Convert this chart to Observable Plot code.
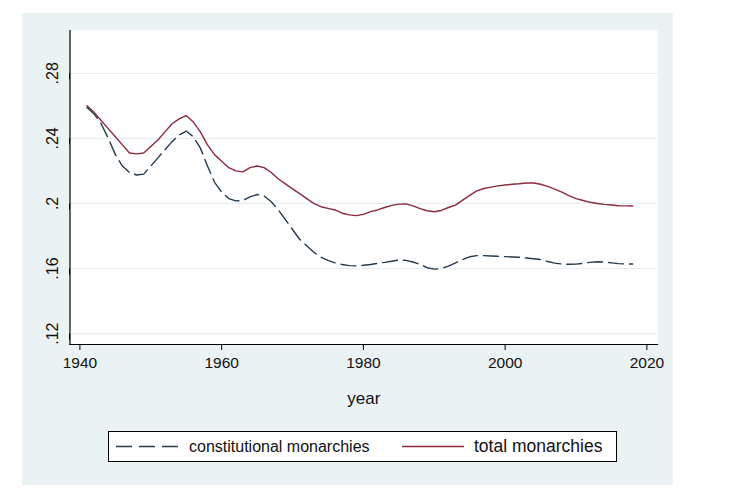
<!DOCTYPE html>
<html>
<head>
<meta charset="utf-8">
<script src="https://cdn.jsdelivr.net/npm/d3@7"></script>
<script src="https://cdn.jsdelivr.net/npm/@observablehq/plot@0.6"></script>
<style>
  html, body { margin: 0; padding: 0; background: #ffffff; }
  body { width: 738px; height: 494px; position: relative; overflow: hidden; font-family: "Liberation Sans", Arial, sans-serif; }
  #outer { position: absolute; left: 22px; top: 13px; width: 651px; height: 472px; background: rgb(234,242,243); }
  #chart { position: absolute; left: 0; top: 0; }
  #legend { position: absolute; left: 86px; top: 418px; width: 507px; height: 29px; border: 1px solid #000; background: #fff; }
  #legend .t { position: absolute; top: 0; line-height: 29px; color: #111; white-space: nowrap; }
  #legend svg { position: absolute; top: 0; }
</style>
</head>
<body>
<div id="outer">
  <div id="chart"></div>
  <div id="legend"></div>
</div>
<script>
const years = [1941,1942,1943,1944,1945,1946,1947,1948,1949,1950,1951,1952,1953,1954,1955,1956,1957,1958,1959,1960,
  1961,1962,1963,1964,1965,1966,1967,1968,1969,1970,1971,1972,1973,1974,1975,1976,1977,1978,1979,1980,
  1981,1982,1983,1984,1985,1986,1987,1988,1989,1990,1991,1992,1993,1994,1995,1996,1997,1998,1999,2000,
  2001,2002,2003,2004,2005,2006,2007,2008,2009,2010,2011,2012,2013,2014,2015,2016,2017,2018];

const constitutional = [0.259,0.255,0.249,0.240,0.230,0.223,0.219,0.2175,0.218,0.223,0.228,0.233,0.238,0.242,0.2445,0.241,0.234,0.223,0.213,0.207,
  0.203,0.2016,0.2018,0.204,0.2055,0.2045,0.201,0.196,0.190,0.184,0.178,0.174,0.170,0.167,0.165,0.1635,0.1625,0.1618,0.1616,0.162,
  0.1625,0.1632,0.1638,0.1645,0.1652,0.165,0.164,0.1625,0.1605,0.1596,0.160,0.1615,0.1635,0.1655,0.1672,0.1679,0.1679,0.1677,0.1675,0.1673,
  0.1671,0.1669,0.1665,0.166,0.1655,0.1643,0.1633,0.1628,0.1626,0.1627,0.1632,0.1638,0.1642,0.164,0.1635,0.163,0.1628,0.1628];

const total = [0.260,0.256,0.251,0.246,0.241,0.236,0.231,0.2305,0.231,0.235,0.239,0.244,0.249,0.252,0.254,0.250,0.244,0.236,0.230,0.226,
  0.222,0.220,0.2194,0.222,0.223,0.222,0.219,0.215,0.212,0.209,0.206,0.203,0.200,0.198,0.197,0.196,0.194,0.193,0.1925,0.1933,
  0.195,0.196,0.1975,0.1988,0.1996,0.1997,0.1985,0.1968,0.1955,0.1949,0.1957,0.1975,0.199,0.202,0.205,0.2077,0.2092,0.210,0.2108,0.2113,
  0.2118,0.2121,0.2126,0.2126,0.2118,0.2105,0.2088,0.207,0.2048,0.203,0.2018,0.2007,0.200,0.1994,0.199,0.1986,0.1985,0.1984];

const xTicks = [1940, 1960, 1980, 2000, 2020];
const yTicks = [0.12, 0.16, 0.2, 0.24, 0.28];
const yTickLabels = [".12", ".16", ".2", ".24", ".28"];
const seriesNames = ["constitutional monarchies", "total monarchies"];
const seriesColors = ["#243a4e", "#8c2a3b"];

const rowsC = years.map((y, i) => ({year: y, value: constitutional[i]}));
const rowsT = years.map((y, i) => ({year: y, value: total[i]}));

const chart = Plot.plot({
  width: 651,
  height: 400,
  marginLeft: 47.5,
  marginRight: 16,
  marginTop: 17,
  marginBottom: 69,
  style: {background: "transparent", fontFamily: "'Liberation Sans', Arial, sans-serif", fontSize: "15.5px", color: "#111", overflow: "visible"},
  x: {domain: [1938.6, 2021.5], axis: null},
  y: {domain: [0.1133, 0.3063], axis: null},
  marks: [
    Plot.frame({fill: "white", stroke: null}),
    Plot.gridY(yTicks, {stroke: "#e6eef0", strokeOpacity: 1, strokeWidth: 1.2}),
    Plot.lineY(rowsT, {x: "year", y: "value", stroke: seriesColors[1], strokeWidth: 1.4}),
    Plot.lineY(rowsC, {x: "year", y: "value", stroke: seriesColors[0], strokeWidth: 1.4, strokeDasharray: "15,6"}),
    Plot.frame({anchor: "left", stroke: "#000", strokeWidth: 1.2}),
    Plot.frame({anchor: "bottom", stroke: "#000", strokeWidth: 1.2}),
    Plot.axisX({ticks: xTicks, tickFormat: d => String(d), tickSize: 6, tickPadding: 6, fontSize: 15.5, stroke: "#000", label: null}),
    Plot.axisX({ticks: xTicks, tickFormat: () => "", tickSize: 0, fontSize: 17,
      label: "year", labelAnchor: "center", labelOffset: 59, labelArrow: "none"}),
    Plot.axisY({ticks: yTicks, tickFormat: d => yTickLabels[yTicks.indexOf(d)], tickSize: 6, tickPadding: 6, fontSize: 16,
      rotate: -90, textAnchor: "middle", lineAnchor: "bottom", stroke: "#000", label: null})
  ]
});
document.getElementById("chart").appendChild(chart);

const legend = document.getElementById("legend");
const entries = [
  {name: seriesNames[0], color: seriesColors[0], dash: "16,7", sx: 7, tx: 80, fs: 16},
  {name: seriesNames[1], color: seriesColors[1], dash: null, sx: 293, tx: 365, fs: 17.5}
];
entries.forEach(e => {
  const s = d3.create("svg").attr("width", 62).attr("height", 29).style("left", e.sx + "px");
  s.append("line").attr("x1", 0).attr("x2", 62).attr("y1", 14.5).attr("y2", 14.5)
    .attr("stroke", e.color).attr("stroke-width", 1.4).attr("stroke-dasharray", e.dash);
  legend.appendChild(s.node());
  const t = document.createElement("div");
  t.className = "t";
  t.style.left = e.tx + "px";
  t.style.fontSize = e.fs + "px";
  t.textContent = e.name;
  legend.appendChild(t);
});
</script>
</body>
</html>
